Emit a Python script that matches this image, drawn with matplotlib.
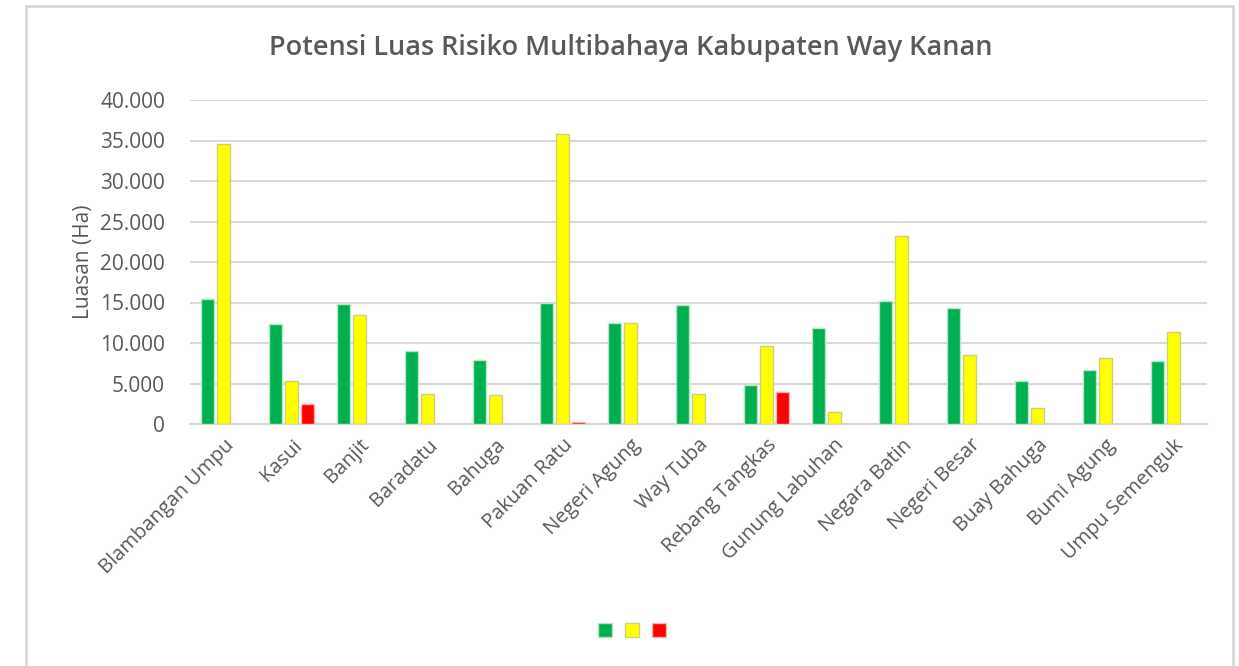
import numpy as np
import matplotlib.pyplot as plt
from matplotlib.patches import Rectangle
from matplotlib.ticker import FuncFormatter

plt.rcParams['font.family'] = ['Open Sans', 'DejaVu Sans']

# kecamatan in Kabupaten Way Kanan
kecamatan = ['Blambangan Umpu', 'Kasui', 'Banjit', 'Baradatu', 'Bahuga',
             'Pakuan Ratu', 'Negeri Agung', 'Way Tuba', 'Rebang Tangkas',
             'Gunung Labuhan', 'Negara Batin', 'Negeri Besar', 'Buay Bahuga',
             'Bumi Agung', 'Umpu Semenguk']

# luasan risiko (Ha) per class
rendah = [15400, 12300, 14850, 8970, 7860, 14980, 12430, 14690, 4860,
          11810, 15140, 14360, 5350, 6620, 7730]
sedang = [34600, 5350, 13460, 3750, 3580, 35800, 12470, 3750, 9590,
          1520, 23200, 8470, 2020, 8190, 11360]
tinggi = [0, 2500, 0, 0, 0, 250, 0, 0, 3910, 0, 0, 0, 0, 0, 0]

fig = plt.figure(figsize=(12.39, 6.66), dpi=100)
ax = fig.add_axes([190 / 1239, 1 - 424 / 666, (1207 - 190) / 1239, 324 / 666])

x = np.arange(len(kecamatan))
w = 0.19
step = 0.236
b1 = ax.bar(x - step, rendah, w, color='#00B050', edgecolor='#B5E8C8', linewidth=1, zorder=3)
b2 = ax.bar(x, sedang, w, color='#FFFF00', edgecolor='#D0D07A', linewidth=1, zorder=3)
b3 = ax.bar(x + step, tinggi, w, color='#FF0000', edgecolor='#FFB0B0', linewidth=1, zorder=3)

ax.set_xlim(-0.5, len(kecamatan) - 0.5)
ax.set_ylim(0, 40000)
ax.set_yticks(np.arange(0, 40001, 5000))
ax.yaxis.set_major_formatter(FuncFormatter(lambda v, p: f'{int(v):,}'.replace(',', '.')))
ax.grid(axis='y', color='#D9D9D9', linewidth=1.5, zorder=0)
ax.set_axisbelow(True)
for s in ['top', 'right', 'left']:
    ax.spines[s].set_visible(False)
ax.spines['bottom'].set_color('#D9D9D9')
ax.spines['bottom'].set_linewidth(1.5)
ax.tick_params(axis='both', length=0, colors='#595959', labelsize=15)
ax.tick_params(axis='y', pad=18)
ax.set_xticks(x)
ax.set_xticklabels(kecamatan, rotation=45, ha='right', rotation_mode='anchor', fontsize=14.5)
ax.tick_params(axis='x', pad=8)

ax.set_ylabel('Luasan (Ha)', fontsize=15, color='#595959', labelpad=4)
fig.text(631 / 1239, 1 - 48 / 666, 'Potensi Luas Risiko Multibahaya Kabupaten Way Kanan',
         ha='center', va='center', fontsize=19.5, fontweight='semibold', color='#595959')

# legend markers only, no labels
fig.legend([b1, b2, b3], ['', '', ''], loc='center', bbox_to_anchor=(633 / 1239, 1 - 632 / 666),
           ncol=3, frameon=False, handlelength=0.65, handleheight=0.65, columnspacing=0.55,
           handletextpad=0.1, fontsize=15)

# chart border
fig.patches.append(Rectangle((26 / 1239, -0.01), (1233 - 26) / 1239, 1 - 6 / 666 + 0.01,
                             transform=fig.transFigure, fill=False,
                             edgecolor='#D9D9D9', linewidth=2))

fig.savefig('out.png', dpi=100)
